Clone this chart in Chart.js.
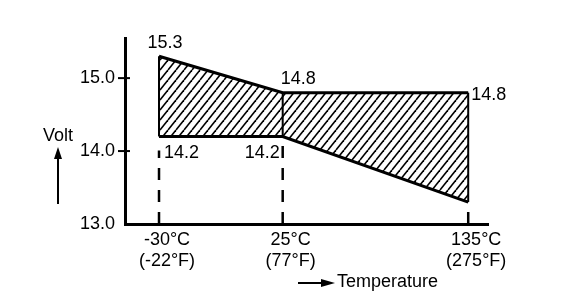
<!DOCTYPE html>
<html>
<head>
<meta charset="utf-8">
<script src="https://cdn.jsdelivr.net/npm/chart.js@4/dist/chart.umd.min.js"></script>
<style>
  body { margin: 0; background: #fff; }
</style>
</head>
<body>
<canvas id="voltChart" width="576" height="308"></canvas>
<script>
// Lämpötilapisteet (x-akseli ei ole mittakaavassa)
const tempC = ['-30°C', '25°C', '135°C'];
const tempF = ['(-22°F)', '(77°F)', '(275°F)'];
const slots = [0, 2, 5];
// Jännitealueen rajat
const upperVolt = [15.3, 14.8, 14.8];
const lowerVolt = [14.2, 14.2, 13.3];
const voltTicks = [13, 14, 15];

const FONT = 'Liberation Sans, Arial, Helvetica, sans-serif';

// Vinoviivoitus alueen täyttöön
function makeHatch() {
    const w = 8, h = 10;
    const c = document.createElement('canvas');
    c.width = w; c.height = h;
    const g = c.getContext('2d');
    g.strokeStyle = '#000';
    g.lineWidth = 1.6;
    for (let k = -1; k <= 1; k++) {
        g.beginPath();
        g.moveTo(k * w, h);
        g.lineTo(k * w + w, 0);
        g.stroke();
    }
    return g.createPattern(c, 'repeat');
}

const annotations = {
    id: 'annotations',
    afterDatasetsDraw(chart) {
        const { ctx, scales: { x, y } } = chart;
        ctx.save();
        ctx.strokeStyle = '#000';
        ctx.fillStyle = '#000';

        // pystysuorat apuviivat
        slots.forEach((s, i) => {
            const px = x.getPixelForValue(s);
            const yLow = y.getPixelForValue(lowerVolt[i]);
            const yUp = y.getPixelForValue(upperVolt[i]);
            ctx.lineWidth = 2.5;
            ctx.setLineDash([12, 10]);
            ctx.beginPath();
            ctx.moveTo(px, y.bottom);
            ctx.lineTo(px, yLow + (i === 0 ? 14 : 2));
            ctx.stroke();
            ctx.setLineDash([]);
            ctx.lineWidth = 2;
            ctx.beginPath();
            ctx.moveTo(px, yLow);
            ctx.lineTo(px, yUp);
            ctx.stroke();
        });

        // y-akselin väliviivat
        ctx.lineWidth = 2;
        voltTicks.slice(1).forEach(v => {
            const py = y.getPixelForValue(v);
            ctx.beginPath();
            ctx.moveTo(x.left - 7, py);
            ctx.lineTo(x.left + 5, py);
            ctx.stroke();
        });

        // arvotekstit
        ctx.font = '18px ' + FONT;
        const place = [
            { set: upperVolt, i: 0, dx: 6, dy: -4, align: 'center', base: 'bottom' },
            { set: upperVolt, i: 1, dx: -2, dy: -5, align: 'left', base: 'bottom' },
            { set: upperVolt, i: 2, dx: 3, dy: 2, align: 'left', base: 'middle' },
            { set: lowerVolt, i: 0, dx: 5, dy: 8, align: 'left', base: 'top' },
            { set: lowerVolt, i: 1, dx: -3, dy: 8, align: 'right', base: 'top' }
        ];
        place.forEach(p => {
            const px = x.getPixelForValue(slots[p.i]);
            const py = y.getPixelForValue(p.set[p.i]);
            ctx.textAlign = p.align;
            ctx.textBaseline = p.base;
            ctx.fillText(p.set[p.i].toFixed(1), px + p.dx, py + p.dy);
        });

        // Volt + nuoli ylös
        ctx.textAlign = 'center';
        ctx.textBaseline = 'middle';
        ctx.fillText('Volt', 58, 136);
        ctx.lineWidth = 2;
        ctx.beginPath();
        ctx.moveTo(58, 204);
        ctx.lineTo(58, 154);
        ctx.stroke();
        ctx.beginPath();
        ctx.moveTo(58, 147);
        ctx.lineTo(54, 159);
        ctx.lineTo(62, 159);
        ctx.closePath();
        ctx.fill();

        // Temperature + nuoli oikealle
        ctx.textAlign = 'left';
        ctx.fillText('Temperature', 337, 282);
        ctx.beginPath();
        ctx.moveTo(298, 283);
        ctx.lineTo(326, 283);
        ctx.stroke();
        ctx.beginPath();
        ctx.moveTo(335, 283);
        ctx.lineTo(321, 279);
        ctx.lineTo(321, 287);
        ctx.closePath();
        ctx.fill();
        ctx.restore();
    }
};

const ctx = document.getElementById('voltChart').getContext('2d');
const voltChart = new Chart(ctx, {
    type: 'line',
    data: {
        datasets: [{
            label: 'lower',
            data: slots.map((s, i) => ({ x: s, y: lowerVolt[i] })),
            borderColor: '#000',
            borderWidth: 3,
            pointRadius: 0,
            tension: 0,
            fill: false
        }, {
            label: 'upper',
            data: slots.map((s, i) => ({ x: s, y: upperVolt[i] })),
            borderColor: '#000',
            borderWidth: 3,
            pointRadius: 0,
            tension: 0,
            backgroundColor: makeHatch(),
            fill: '-1'
        }]
    },
    options: {
        responsive: false,
        animation: false,
        layout: { padding: { top: 38, right: 88, bottom: 0, left: 0 } },
        plugins: {
            legend: { display: false },
            tooltip: { enabled: false }
        },
        scales: {
            x: {
                type: 'linear',
                min: -0.55,
                max: 5.32,
                afterFit(axis) { axis.height = 84; },
                afterBuildTicks(axis) { axis.ticks = slots.map(v => ({ value: v })); },
                border: { display: true, color: '#000', width: 3 },
                grid: { display: true, drawOnChartArea: false, drawTicks: false, color: 'rgba(0,0,0,0)' },
                ticks: {
                    color: '#000',
                    font: { family: FONT, size: 18 },
                    padding: 5,
                    labelOffset: 8,
                    maxRotation: 0,
                    callback: (value, index) => [tempC[index], tempF[index]]
                }
            },
            y: {
                min: 13,
                max: 15.55,
                afterFit(axis) { axis.width = 125; },
                afterBuildTicks(axis) { axis.ticks = voltTicks.map(v => ({ value: v })); },
                border: { display: true, color: '#000', width: 3 },
                grid: { display: true, drawOnChartArea: false, drawTicks: false, color: 'rgba(0,0,0,0)' },
                ticks: {
                    color: '#000',
                    font: { family: FONT, size: 18 },
                    padding: 10,
                    callback: v => v.toFixed(1)
                }
            }
        }
    },
    plugins: [annotations]
});
</script>
</body>
</html>
